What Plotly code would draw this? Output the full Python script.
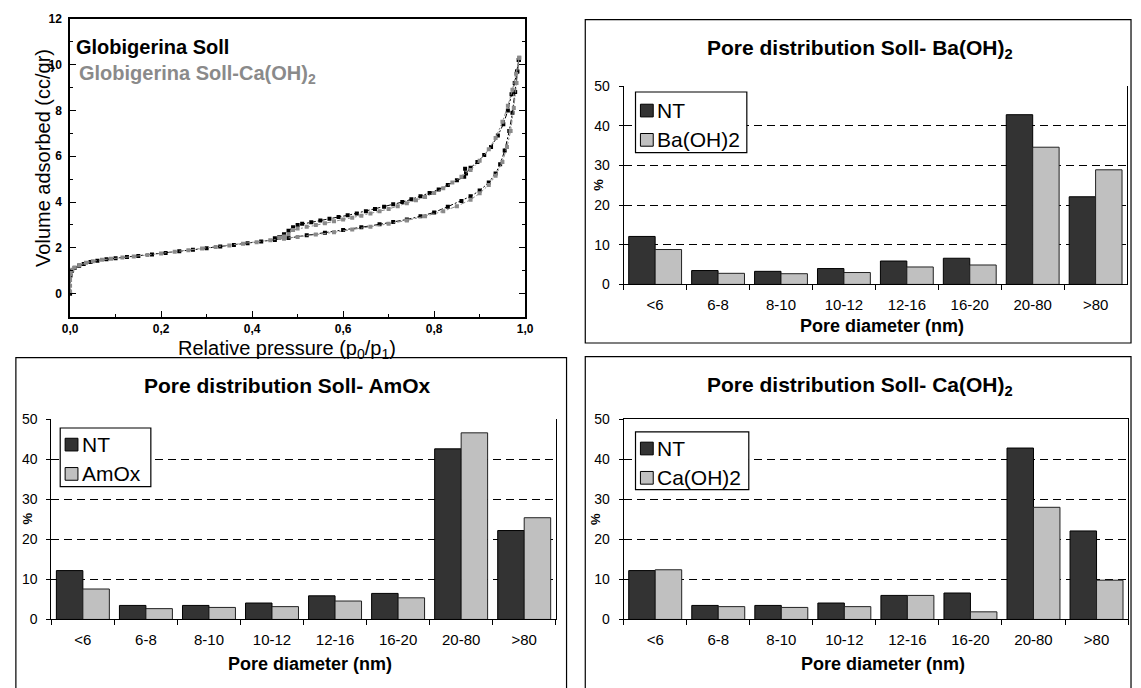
import plotly.graph_objects as go

W, H = 1141, 688


def px(x):
    return x / W


def py(y):
    return 1 - y / H


# ---------------- data ----------------
categories = ["<6", "6-8", "8-10", "10-12", "12-16", "16-20", "20-80", ">80"]

nt_ba = [12.1, 3.5, 3.3, 4.0, 5.9, 6.6, 42.8, 22.1]
baoh2 = [8.8, 2.8, 2.7, 3.0, 4.4, 4.9, 34.6, 28.9]

nt_amox = [12.2, 3.5, 3.5, 4.1, 5.9, 6.5, 42.6, 22.2]
amox = [7.6, 2.7, 3.0, 3.2, 4.6, 5.4, 46.6, 25.4]

nt_ca = [12.2, 3.5, 3.5, 4.1, 6.0, 6.6, 42.8, 22.1]
caoh2 = [12.4, 3.2, 3.0, 3.2, 6.0, 1.9, 28.0, 9.8]

x_tick_vals = [0.0, 0.2, 0.4, 0.6, 0.8, 1.0]
x_tick_text = ["0,0", "0,2", "0,4", "0,6", "0,8", "1,0"]
y_tick_vals = [0, 2, 4, 6, 8, 10, 12]

# Globigerina Soll (black) adsorption branch
p_ads_soll = [0.0, 0.001, 0.004, 0.01, 0.02, 0.03, 0.045, 0.06, 0.08, 0.10,
              0.125, 0.15, 0.18, 0.21, 0.24, 0.27, 0.30, 0.33, 0.36, 0.39,
              0.42, 0.45, 0.48, 0.52, 0.56, 0.60, 0.64, 0.68, 0.71, 0.74,
              0.77, 0.80, 0.83, 0.86, 0.88, 0.90, 0.92, 0.935, 0.945, 0.955,
              0.965, 0.972, 0.978, 0.983, 0.986]
v_ads_soll = [0.0, 0.8, 1.0, 1.12, 1.22, 1.3, 1.38, 1.44, 1.5, 1.55,
              1.6, 1.65, 1.71, 1.78, 1.85, 1.92, 1.99, 2.06, 2.13, 2.2,
              2.28, 2.35, 2.43, 2.55, 2.66, 2.78, 2.9, 3.03, 3.13, 3.24,
              3.38, 3.55, 3.8, 4.05, 4.25, 4.5, 4.85, 5.25, 5.65, 6.25,
              7.1, 7.9, 8.8, 9.7, 10.2]
# Globigerina Soll (black) desorption branch
p_des_soll = [0.986, 0.982, 0.977, 0.970, 0.962, 0.952, 0.940, 0.925, 0.910,
              0.895, 0.880, 0.870, 0.868, 0.866, 0.850, 0.830, 0.810, 0.790,
              0.770, 0.750, 0.730, 0.710, 0.690, 0.670, 0.650, 0.630, 0.610,
              0.590, 0.570, 0.550, 0.530, 0.510, 0.500, 0.490, 0.480, 0.470,
              0.460, 0.450]
v_des_soll = [10.2, 9.7, 9.2, 8.7, 8.0, 7.4, 6.9, 6.4, 6.05,
              5.75, 5.5, 5.25, 5.45, 5.1, 4.95, 4.75, 4.55, 4.4,
              4.25, 4.12, 4.0, 3.9, 3.8, 3.7, 3.6, 3.5, 3.42,
              3.35, 3.27, 3.2, 3.12, 3.05, 3.0, 2.9, 2.75, 2.6,
              2.48, 2.42]

# Globigerina Soll-Ca(OH)2 (grey) adsorption branch
p_ads_ca = [0.0, 0.0, 0.0, 0.0, 0.001, 0.005, 0.01, 0.02, 0.035, 0.05,
            0.07, 0.09, 0.115, 0.14, 0.17, 0.20, 0.23, 0.26, 0.29, 0.32,
            0.35, 0.38, 0.41, 0.44, 0.47, 0.50, 0.54, 0.58, 0.62, 0.66,
            0.70, 0.74, 0.78, 0.82, 0.85, 0.88, 0.90, 0.92, 0.935, 0.95,
            0.96, 0.968, 0.975, 0.981, 0.987]
v_ads_ca = [0.1, 0.35, 0.6, 0.85, 0.95, 1.05, 1.15, 1.25, 1.35, 1.42,
            1.48, 1.53, 1.58, 1.63, 1.69, 1.76, 1.83, 1.9, 1.97, 2.04,
            2.11, 2.18, 2.25, 2.33, 2.4, 2.48, 2.58, 2.68, 2.8, 2.92,
            3.05, 3.2, 3.38, 3.6, 3.82, 4.1, 4.38, 4.75, 5.15, 5.75,
            6.4, 7.1, 8.1, 9.2, 10.3]
# Globigerina Soll-Ca(OH)2 (grey) desorption branch
p_des_ca = [0.987, 0.980, 0.972, 0.962, 0.950, 0.935, 0.920, 0.900, 0.880,
            0.860, 0.840, 0.820, 0.800, 0.780, 0.760, 0.740, 0.720, 0.700,
            0.680, 0.660, 0.640, 0.620, 0.600, 0.580, 0.560, 0.540, 0.520,
            0.500, 0.490, 0.480, 0.470, 0.460]
v_des_ca = [10.3, 9.6, 8.9, 8.2, 7.5, 6.8, 6.3, 5.8, 5.4,
            5.1, 4.85, 4.6, 4.4, 4.22, 4.08, 3.95, 3.82, 3.7,
            3.6, 3.5, 3.4, 3.32, 3.24, 3.16, 3.08, 3.0, 2.92,
            2.85, 2.78, 2.6, 2.5, 2.45]

# ---------------- styles ----------------
BLACK = "#000000"
GREY_LINE = "#8a8a8a"
NT_FILL = "#333333"
TREAT_FILL = "#c0c0c0"
FONT = "Liberation Sans, Arial, sans-serif"

fig = go.Figure()

# ---------------- isotherm ----------------
iso_line = dict(width=1, dash="5px,2px,2px,2px")
for p, v, col in [(p_ads_soll, v_ads_soll, BLACK), (p_des_soll, v_des_soll, BLACK),
                  (p_ads_ca, v_ads_ca, GREY_LINE), (p_des_ca, v_des_ca, GREY_LINE)]:
    fig.add_trace(go.Scatter(
        x=p, y=v, mode="lines+markers", xaxis="x", yaxis="y",
        line=dict(color=col, **iso_line),
        marker=dict(symbol="square", size=4, color=col, line=dict(width=0)),
        showlegend=False, hoverinfo="skip"))


# ---------------- bar charts ----------------
def add_bars(nt, treated, name, ax):
    fig.add_trace(go.Bar(
        x=categories, y=nt, name="NT", xaxis="x" + ax, yaxis="y" + ax,
        marker=dict(color=NT_FILL, line=dict(color=BLACK, width=1)),
        showlegend=False))
    fig.add_trace(go.Bar(
        x=categories, y=treated, name=name, xaxis="x" + ax, yaxis="y" + ax,
        marker=dict(color=TREAT_FILL, line=dict(color="#222222", width=1)),
        showlegend=False))


add_bars(nt_ba, baoh2, "Ba(OH)2", "2")
add_bars(nt_amox, amox, "AmOx", "3")
add_bars(nt_ca, caoh2, "Ca(OH)2", "4")

tickfont_iso = dict(family=FONT, size=12, color=BLACK, weight="bold")

layout = dict(
    width=W, height=H,
    margin=dict(l=0, r=0, t=0, b=0),
    paper_bgcolor="white", plot_bgcolor="white",
    font=dict(family=FONT, color=BLACK),
    barmode="group", bargap=0.16, bargroupgap=0,
    showlegend=False,
    xaxis=dict(domain=[px(63), px(525)], range=[0, 1.0], anchor="y",
               tickvals=x_tick_vals, ticktext=x_tick_text,
               ticks="inside", ticklen=6, tickwidth=1.2, tickcolor=BLACK,
               minor=dict(ticks="inside", ticklen=3, dtick=0.1, tickcolor=BLACK),
               showline=True, linecolor=BLACK, linewidth=1.5, mirror=True,
               showgrid=False, zeroline=False, tickfont=tickfont_iso,
               ticklabelstandoff=0),
    yaxis=dict(domain=[py(316), py(11)], range=[-1, 12], anchor="x",
               tickvals=y_tick_vals,
               ticks="inside", ticklen=6, tickwidth=1.2, tickcolor=BLACK,
               minor=dict(ticks="inside", ticklen=3, dtick=1, tickcolor=BLACK),
               showline=True, linecolor=BLACK, linewidth=1.5, mirror="ticks",
               showgrid=False, zeroline=False, tickfont=tickfont_iso,
               ticklabelstandoff=4),
)

bar_domains = {
    "2": ([625, 1136], [283, 80]),
    "3": ([44, 556], [626, 421]),
    "4": ([625, 1137], [626, 421]),
}
for ax, (xd, yd) in bar_domains.items():
    layout["xaxis" + ax] = dict(
        domain=[px(xd[0]), px(xd[1])], anchor="y" + ax, type="category",
        tickson="boundaries", ticks="outside", ticklen=5, tickcolor=BLACK,
        showline=True, linecolor=BLACK, linewidth=1, showgrid=False,
        zeroline=False, tickfont=dict(family=FONT, size=15, color=BLACK),
        ticklabelstandoff=7, mirror=(ax == "4"))
    layout["yaxis" + ax] = dict(
        domain=[py(yd[0]), py(yd[1])], anchor="x" + ax, range=[0, 50],
        dtick=10, ticks="outside", ticklen=4, tickcolor=BLACK,
        showline=True, linecolor=BLACK, linewidth=1, mirror=True,
        showgrid=True, gridcolor=BLACK, gridwidth=1, griddash="8px,5px",
        zeroline=False, tickfont=dict(family=FONT, size=14, color=BLACK),
        ticklabelstandoff=6)

shapes = []
annotations = []


def rect(x0, y0, x1, y1, fill="rgba(0,0,0,0)", width=1.2, color=BLACK, layer="below"):
    shapes.append(dict(type="rect", xref="paper", yref="paper",
                       x0=px(x0), x1=px(x1), y0=py(y1), y1=py(y0),
                       line=dict(color=color, width=width), fillcolor=fill,
                       layer=layer))


def ann(text, x, y, size, bold=False, color=BLACK, xanchor="center", angle=0):
    annotations.append(dict(
        text=text, x=px(x), y=py(y), xref="paper", yref="paper",
        xanchor=xanchor, yanchor="middle", showarrow=False, textangle=angle,
        font=dict(family=FONT, size=size, color=color,
                  weight="bold" if bold else "normal")))


# chart frames
for x0, y0, x1, y1 in [(586, 12, 1140, 343), (8, 358, 567, 700), (586, 357, 1140, 700)]:
    rect(x0, y0, x1, y1)

# legend boxes (drawn as boxes with swatches + text)
legend_specs = [
    # box x0, y0, x1, y1, y of item 1, y of item 2, treated name
    (637, 86, 750, 148, 105, 135, "Ba(OH)2"),
    (53, 430, 145, 490, 447, 477, "AmOx"),
    (637, 434, 752, 493, 451, 481, "Ca(OH)2"),
]
for bx0, by0, bx1, by1, yi1, yi2, tname in legend_specs:
    rect(bx0, by0, bx1, by1, fill="white", width=1.2, layer="above")
    sx0 = bx0 + 5
    rect(sx0, yi1 - 6.5, sx0 + 13, yi1 + 6.5, fill=NT_FILL, width=1, layer="above")
    rect(sx0, yi2 - 6.5, sx0 + 13, yi2 + 6.5, fill=TREAT_FILL, width=1, layer="above")
    ann("NT", bx0 + 20, yi1, 21, xanchor="left")
    ann(tname, bx0 + 20, yi2, 21, xanchor="left")

# isotherm texts
ann("Volume adsorbed (cc/gr)", 36, 153, 20, angle=-90)
ann("Relative pressure (p<sub>0</sub>/p<sub>1</sub>)", 283, 350, 20)
ann("Globigerina Soll", 67, 40, 20, bold=True, xanchor="left")
ann("Globigerina Soll-Ca(OH)<sub>2</sub>", 70, 68, 20, bold=True,
    color=GREY_LINE, xanchor="left")

# bar chart texts
ann("Pore distribution Soll- Ba(OH)<sub>2</sub>", 865, 42, 21, bold=True)
ann("Pore distribution Soll- AmOx", 284, 386, 21, bold=True)
ann("Pore distribution Soll- Ca(OH)<sub>2</sub>", 865, 387, 21, bold=True)

for xc, ytitle, ypct, xpct in [(887, 326, 181, 600), (307, 672, 523, 20),
                               (888, 672, 523, 597)]:
    ann("Pore diameter (nm)", xc, ytitle, 18, bold=True)
    ann("%", xpct, ypct, 13, bold=True, angle=-90)

layout["shapes"] = shapes
layout["annotations"] = annotations

fig.update_layout(**layout)
fig.write_html("out.html")
